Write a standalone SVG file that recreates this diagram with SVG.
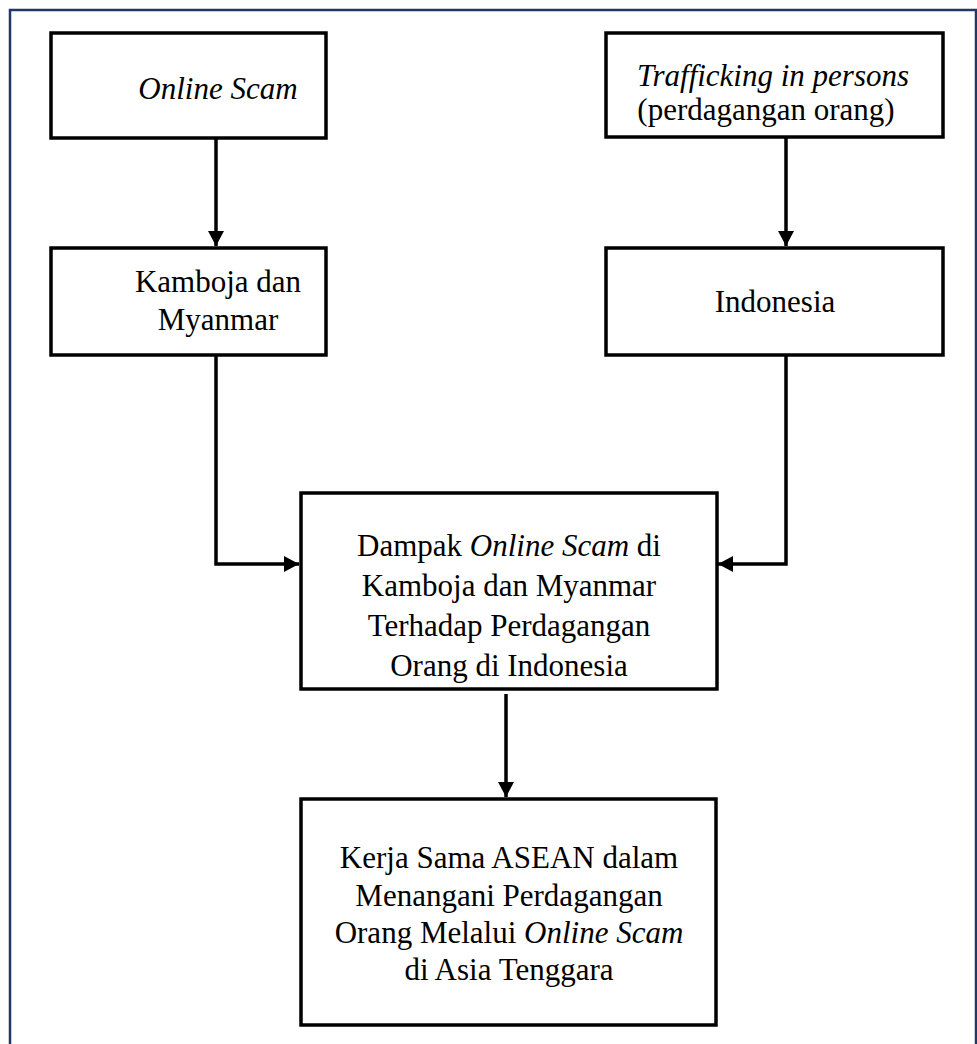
<svg xmlns="http://www.w3.org/2000/svg" width="977" height="1044" viewBox="0 0 977 1044">
<style>
.box{fill:#fff;stroke:#000;stroke-width:3.5}
.lbl{font-family:"Liberation Serif","Times New Roman",serif;font-size:31px;fill:#000;text-anchor:middle}
.it{font-style:italic}
.conn{fill:none;stroke:#000;stroke-width:3.5}
</style>
<defs>
<marker id="ah" markerUnits="userSpaceOnUse" markerWidth="16" markerHeight="16" refX="15" refY="8" orient="auto">
<path d="M0,0 L15,8 L0,16 z" fill="#000"/>
</marker>
</defs>
<rect x="0" y="0" width="977" height="1044" fill="#fff"/>
<rect x="10" y="10" width="966" height="1060" fill="none" stroke="#1F3864" stroke-width="2.5"/>
<g id="connectors">
<path class="conn" d="M216,138 V246" marker-end="url(#ah)"/>
<path class="conn" d="M786,137 V246" marker-end="url(#ah)"/>
<path class="conn" d="M216,355 V564 H299" marker-end="url(#ah)"/>
<path class="conn" d="M786,355 V564 H718" marker-end="url(#ah)"/>
<path class="conn" d="M506,694 V797" marker-end="url(#ah)"/>
</g>
<g id="node-online-scam">
<rect class="box" x="51" y="33" width="275" height="105"/>
<text class="lbl it" x="218" y="99">Online Scam</text>
</g>
<g id="node-trafficking">
<rect class="box" x="606" y="33" width="337" height="104"/>
<text class="lbl it" x="773" y="86">Trafficking in persons</text>
<text class="lbl" x="766" y="120">(perdagangan orang)</text>
</g>
<g id="node-kamboja">
<rect class="box" x="51" y="248" width="275" height="107"/>
<text class="lbl"><tspan x="218" y="292">Kamboja dan</tspan><tspan x="218" y="330">Myanmar</tspan></text>
</g>
<g id="node-indonesia">
<rect class="box" x="606" y="248" width="337" height="107"/>
<text class="lbl" x="775" y="312">Indonesia</text>
</g>
<g id="node-dampak">
<rect class="box" x="301" y="493" width="416" height="196"/>
<text class="lbl"><tspan x="509" y="556">Dampak <tspan class="it">Online Scam</tspan> di</tspan><tspan x="509" y="596">Kamboja dan Myanmar</tspan><tspan x="509" y="636">Terhadap Perdagangan</tspan><tspan x="509" y="676">Orang di Indonesia</tspan></text>
</g>
<g id="node-kerja-sama">
<rect class="box" x="301" y="799" width="415" height="226"/>
<text class="lbl"><tspan x="509" y="868">Kerja Sama ASEAN dalam</tspan><tspan x="509" y="906">Menangani Perdagangan</tspan><tspan x="509" y="943">Orang Melalui <tspan class="it">Online Scam</tspan></tspan><tspan x="509" y="980">di Asia Tenggara</tspan></text>
</g>
</svg>
